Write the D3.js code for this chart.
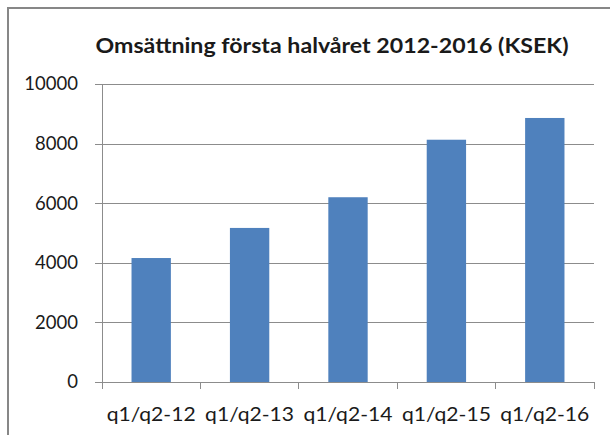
<!DOCTYPE html>
<html>
  <head>
    <script type="text/javascript" src="https://cdn.jsdelivr.net/npm/d3@7"></script>
    <style>
      body { margin: 0; background: #fff; }
      text { font-family: Lato, "Open Sans", sans-serif; fill: #1a1a1a; }
    </style>
  </head>
  <body>
    <script type="text/javascript">
      WIDTH = 610
      HEIGHT = 435

      // chart data
      var categories = ["q1/q2-12", "q1/q2-13", "q1/q2-14", "q1/q2-15", "q1/q2-16"]
      var values = [4160, 5170, 6200, 8130, 8860]
      var yTicks = [0, 2000, 4000, 6000, 8000, 10000]
      var title = "Omsättning första halvåret 2012-2016 (KSEK)"

      var LEFT = 102, RIGHT = 594, TOP = 84, BOTTOM = 382

      var svg = d3.select("body").append("svg")
        .attr("width", WIDTH)
        .attr("height", HEIGHT)

      // chart area border (runs off the picture at right and bottom)
      svg.append("rect")
        .attr("x", 8).attr("y", 8)
        .attr("width", 640).attr("height", 460)
        .attr("fill", "none")
        .attr("stroke", "#878787")
        .attr("stroke-width", 2)

      var x = d3.scaleBand().domain(categories).range([LEFT, RIGHT]).paddingInner(0.6).paddingOuter(0.3)
      var xb = d3.scaleBand().domain(categories).range([LEFT, RIGHT])
      var y = d3.scaleLinear().domain([0, 10000]).range([BOTTOM, TOP])

      // gridlines + y labels
      var yAxis = d3.axisLeft(y).tickValues(yTicks).tickFormat(d3.format("d"))
        .tickSize(-(RIGHT - LEFT)).tickPadding(24).tickSizeOuter(0)
      var gy = svg.append("g").attr("transform", "translate(" + LEFT + ",0)").call(yAxis)
      gy.select(".domain").remove()
      gy.selectAll(".tick line").attr("stroke", "#8c8c8c").attr("x1", -7).attr("shape-rendering", "crispEdges")
      gy.selectAll(".tick text").attr("font-size", 18.5).attr("fill", "#1a1a1a")
        .style("font-family", "Lato, sans-serif")

      // y axis line
      svg.append("line")
        .attr("x1", LEFT).attr("x2", LEFT)
        .attr("y1", TOP).attr("y2", BOTTOM)
        .attr("stroke", "#8c8c8c").attr("shape-rendering", "crispEdges")

      // bars
      svg.selectAll("rect.bar").data(values).enter()
        .append("rect").attr("class", "bar")
        .attr("x", function(d, i) { return x(categories[i]) })
        .attr("y", function(d) { return y(d) })
        .attr("width", x.bandwidth())
        .attr("height", function(d) { return BOTTOM - y(d) })
        .attr("fill", "#4f81bd")

      // x axis with ticks at band edges
      svg.append("line")
        .attr("x1", LEFT).attr("x2", RIGHT)
        .attr("y1", BOTTOM).attr("y2", BOTTOM)
        .attr("stroke", "#8c8c8c").attr("shape-rendering", "crispEdges")
      var edges = categories.map(function(c) { return xb(c) }).concat([RIGHT])
      svg.selectAll("line.xtick").data(edges).enter()
        .append("line").attr("class", "xtick")
        .attr("x1", function(d) { return d }).attr("x2", function(d) { return d })
        .attr("y1", BOTTOM).attr("y2", BOTTOM + 7)
        .attr("stroke", "#8c8c8c").attr("shape-rendering", "crispEdges")
      svg.selectAll("text.xlab").data(categories).enter()
        .append("text").attr("class", "xlab")
        .attr("x", function(d) { return xb(d) + xb.bandwidth() / 2 })
        .attr("y", 421)
        .attr("text-anchor", "middle")
        .attr("font-size", 19)
        .attr("textLength", 89)
        .attr("lengthAdjust", "spacingAndGlyphs")
        .text(function(d) { return d })

      // title
      svg.append("text")
        .attr("x", 332).attr("y", 53)
        .attr("text-anchor", "middle")
        .attr("font-size", 20.5)
        .attr("font-weight", "bold")
        .attr("fill", "#000")
        .attr("textLength", 473)
        .attr("lengthAdjust", "spacingAndGlyphs")
        .text(title)
    </script>
  </body>
</html>
